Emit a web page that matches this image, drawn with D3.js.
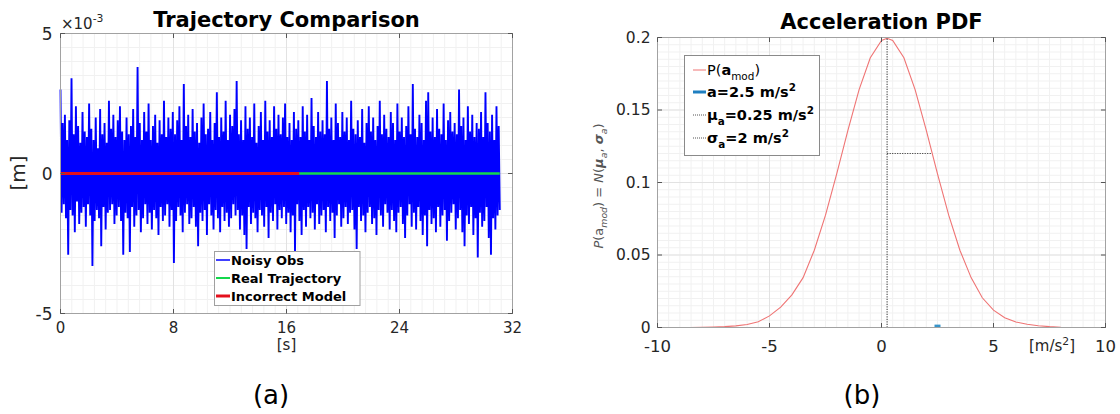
<!DOCTYPE html>
<html><head><meta charset="utf-8">
<script src="https://cdn.jsdelivr.net/npm/d3@7"></script>
<style>body{margin:0;background:#fff}svg{display:block}text{font-family:"DejaVu Sans",sans-serif}</style>
</head><body><svg id="c" width="1120" height="414"></svg>
<script>
// ---------- Panel (a) data ----------
const obsValues = [
30,-14,18,-11,21,-16,12,-29,19,-13,34,-15,14,-21,24,-10,17,-18,11,-14,
22,-12,15,-19,13,-11,25,-15,16,-33,12,-17,20,-13,9,-16,23,-26,14,-12,
18,-20,11,-14,26,-13,16,-11,21,-18,13,-15,19,-12,24,-17,15,-29,12,-14,
20,-16,14,-28,17,-12,23,-19,13,-15,38,-13,18,-21,12,-16,22,-11,15,-18,
25,-14,12,-20,17,-13,21,-16,11,-22,19,-12,14,-17,26,-15,13,-11,20,-19,
16,-13,22,-32,14,-17,19,-12,24,-15,12,-21,32,-14,17,-11,21,-18,13,-16,
23,-12,15,-19,18,-26,11,-14,20,-17,25,-13,14,-22,16,-11,22,-15,12,-20,
18,-13,29,-16,13,-21,20,-12,15,-17,26,-14,12,-19,21,-16,17,-11,23,-15,
33,-13,14,-20,19,-15,12,-22,24,-27,16,-12,20,-18,13,-14,25,-16,11,-21,
17,-13,22,-15,12,-19,26,-12,15,-23,19,-14,13,-17,24,-11,16,-20,21,-13,
14,-16,20,-12,25,-18,13,-14,18,-21,12,-15,22,-28,16,-11,19,-17,13,-22,
24,-13,15,-19,21,-12,12,-16,27,-14,17,-20,13,-11,22,-18,15,-15,19,-13,
14,-21,33,-12,16,-17,20,-14,12,-23,25,-15,18,-11,13,-19,22,-16,15,-12,
20,-18,12,-14,26,-13,16,-20,14,-27,19,-12,13,-17,23,-15,11,-21,18,-14,
24,-12,15,-18,20,-16,12,-22,17,-13,26,-15,14,-19,21,-11,16,-14,13,-20,
22,-13,18,-17,12,-21,25,-14,15,-12,20,-18,13,-23,17,-15,24,-11,14,-19,
32,-14,16,-20,13,-12,21,-17,18,-22,12,-15,26,-26,29,-13,15,-18,20,-16,
13,-21,23,-12,16,-19,14,-15,25,-13,12,-24,19,-17,22,-14,15,-11,18,-20,
14,-16,30,-13,17,-21,20,-26,12,-15,24,-18,15,-12,21,-22,13,-16,18,-30,
16,-14,22,-19,13,-17,29,-12,18,-23,15,-29,21,-16,12,-20,24,-15,17,-13
];
const obsTimeEnd = 31.1;
const realTrajTime = [0, 31.1];
const realTrajValue = [0, 0];
const modelTime = [0, 16.9];
const modelValue = [0, 0];
const xTicksA = [0, 8, 16, 24, 32];
const yTicksA = [-5, 0, 5];
const legendA = ["Noisy Obs", "Real Trajectory", "Incorrect Model"];

// ---------- Panel (b) data ----------
const pdfX = [-8.56,-8,-7.5,-7,-6.5,-6,-5.5,-5,-4.5,-4,-3.5,-3,-2.5,-2,-1.5,-1,-0.5,0,0.25,0.5,1,1.5,2,2.5,3,3.5,4,4.5,5,5.5,6,6.5,7,7.5,8,8.4];
const pdfY = [0.00005,0.0001,0.0003,0.0006,0.0011,0.0021,0.0040,0.0080,0.0140,0.0225,0.0344,0.0533,0.0775,0.1059,0.1360,0.1641,0.1860,0.1979,0.1995,0.1979,0.1860,0.1641,0.1360,0.1059,0.0775,0.0533,0.0344,0.0205,0.0120,0.0068,0.0038,0.0022,0.0012,0.0006,0.0002,0.00005];
const aValue = 2.5;
const aMarkHeight = [0, 0.002];
const muA = 0.25;
const muPeak = 0.1995;
const sigmaA = 2;
const sigmaLineLevel = 0.12;
const xTicksB = [-10, -5, 0, 5, 10];
const yTicksB = [0, 0.05, 0.1, 0.15, 0.2];
const yTickLabelsB = ["0", "0.05", "0.1", "0.15", "0.2"];

const svg = d3.select('#c');
const TICKCOL = '#262626';

function rich(g, x, y, parts, base) {
  const t = g.append('text').attr('x', x).attr('y', y)
    .attr('font-size', base.size).attr('font-weight', base.weight || 'normal')
    .attr('fill', base.fill || '#000');
  if (base.family) t.attr('font-family', base.family);
  if (base.anchor) t.attr('text-anchor', base.anchor);
  if (base.transform) t.attr('transform', base.transform);
  let shift = 0;
  parts.forEach(p => {
    const target = p.sub ? base.size * 0.32 : p.sup ? -base.size * 0.42 : 0;
    const ts = t.append('tspan').text(p.t).attr('dy', target - shift);
    shift = target;
    if (p.sub || p.sup) ts.attr('font-size', base.size * 0.72);
    if (p.weight) ts.attr('font-weight', p.weight);
    if (p.style) ts.attr('font-style', p.style);
    if (p.family) ts.attr('font-family', p.family);
  });
  return t;
}

function drawFrame(g, x, y, xt, yt, minorX, minorY) {
  const [x0, x1] = x.range(), [y0, y1] = y.range();
  const grid = g.append('g');
  minorX.forEach(v => grid.append('line').attr('x1', x(v)).attr('x2', x(v)).attr('y1', y0).attr('y2', y1).attr('stroke', '#f1f1f1'));
  minorY.forEach(v => grid.append('line').attr('y1', y(v)).attr('y2', y(v)).attr('x1', x0).attr('x2', x1).attr('stroke', '#f1f1f1'));
  xt.forEach(v => grid.append('line').attr('x1', x(v)).attr('x2', x(v)).attr('y1', y0).attr('y2', y1).attr('stroke', '#e2e2e2'));
  yt.forEach(v => grid.append('line').attr('y1', y(v)).attr('y2', y(v)).attr('x1', x0).attr('x2', x1).attr('stroke', '#e2e2e2'));
}
function drawBox(g, x, y, xt, yt) {
  const [x0, x1] = x.range(), [y0, y1] = y.range();
  g.append('rect').attr('x', x0).attr('y', y1).attr('width', x1 - x0).attr('height', y0 - y1)
    .attr('fill', 'none').attr('stroke', '#a2a2a2');
  const t = g.append('g').attr('stroke', '#555');
  xt.forEach(v => {
    t.append('line').attr('x1', x(v)).attr('x2', x(v)).attr('y1', y0).attr('y2', y0 - 4.5);
    t.append('line').attr('x1', x(v)).attr('x2', x(v)).attr('y1', y1).attr('y2', y1 + 4.5);
  });
  yt.forEach(v => {
    t.append('line').attr('y1', y(v)).attr('y2', y(v)).attr('x1', x0).attr('x2', x0 + 4.5);
    t.append('line').attr('y1', y(v)).attr('y2', y(v)).attr('x1', x1).attr('x2', x1 - 4.5);
  });
}

// ================= Panel (a) =================
{
  const g = svg.append('g');
  const x = d3.scaleLinear().domain([0, 32]).range([60.5, 512.5]);
  const y = d3.scaleLinear().domain([-5, 5]).range([313.5, 33.5]);
  drawFrame(g, x, y, xTicksA, yTicksA, d3.range(0, 32.01, 0.8), d3.range(-5, 5.01, 0.5));

  const n = obsValues.length;
  const tIdx = d3.scaleLinear().domain([0, n - 1]).range([0, obsTimeEnd]);
  const line = d3.line().x(d => x(d[0])).y(d => y(d[1]));
  g.append('path').datum(obsValues.map((v, i) => [tIdx(i), v / 10]))
    .attr('d', line).attr('fill', 'none').attr('stroke', '#0000ff').attr('stroke-width', 1.9)
    .attr('stroke-linejoin', 'miter').attr('stroke-miterlimit', 2);
  g.append('path').datum(realTrajTime.map((t, i) => [t, realTrajValue[i]]))
    .attr('d', line).attr('fill', 'none').attr('stroke', '#14d84c').attr('stroke-width', 2.6);
  g.append('path').datum(modelTime.map((t, i) => [t, modelValue[i]]))
    .attr('d', line).attr('fill', 'none').attr('stroke', '#e4101c').attr('stroke-width', 3);

  drawBox(g, x, y, xTicksA, yTicksA);

  g.selectAll('.xl').data(xTicksA).join('text').attr('x', d => x(d)).attr('y', 333)
    .attr('text-anchor', 'middle').attr('font-size', 15).attr('fill', TICKCOL).text(d => d);
  g.selectAll('.yl').data(yTicksA).join('text').attr('x', x(0) - 8).attr('y', d => y(d) + 6)
    .attr('text-anchor', 'end').attr('font-size', 17).attr('fill', TICKCOL).text(d => d);

  rich(g, 61, 28.5, [{t: '\u00d710'}, {t: '-3', sup: true}], {size: 15, fill: TICKCOL});
  g.append('text').attr('x', (x(0) + x(32)) / 2).attr('y', 27).attr('text-anchor', 'middle')
    .attr('font-size', 21).attr('font-weight', 'bold').text('Trajectory Comparison');
  g.append('text').attr('transform', 'translate(25,173) rotate(-90)').attr('text-anchor', 'middle')
    .attr('font-size', 20).attr('fill', TICKCOL).text('[m]');
  g.append('text').attr('x', (x(0) + x(32)) / 2).attr('y', 350).attr('text-anchor', 'middle')
    .attr('font-size', 15).attr('fill', TICKCOL).text('[s]');
  g.append('text').attr('x', 271).attr('y', 404).attr('text-anchor', 'middle')
    .attr('font-family', 'Liberation Serif').attr('font-size', 26).text('(a)');

  // legend
  const lg = g.append('g');
  lg.append('rect').attr('x', 214.5).attr('y', 251.5).attr('width', 145.5).attr('height', 54)
    .attr('fill', '#fff').attr('stroke', '#a0a0a0');
  const cols = ['#0000ff', '#14d84c', '#e4101c'];
  const widths = [1.5, 2, 3];
  legendA.forEach((s, i) => {
    const yy = 260 + i * 18;
    lg.append('line').attr('x1', 216).attr('x2', 230).attr('y1', yy).attr('y2', yy)
      .attr('stroke', cols[i]).attr('stroke-width', widths[i]);
    lg.append('text').attr('x', 231).attr('y', yy + 5).attr('font-size', 13).attr('font-weight', 'bold').text(s);
  });
}

// ================= Panel (b) =================
{
  const g = svg.append('g');
  const x = d3.scaleLinear().domain([-10, 10]).range([657.5, 1105.5]);
  const y = d3.scaleLinear().domain([0, 0.2]).range([327.5, 37.5]);
  drawFrame(g, x, y, xTicksB, yTicksB, d3.range(-10, 10.01, 0.5), d3.range(0, 0.2001, 0.005));

  const line = d3.line().x(d => x(d[0])).y(d => y(d[1]));
  g.append('path').datum(pdfX.map((v, i) => [v, pdfY[i]])).attr('d', line)
    .attr('fill', 'none').attr('stroke', '#ef7474').attr('stroke-width', 1.1);
  g.append('path').datum([[muA, 0], [muA, muPeak]]).attr('d', line)
    .attr('stroke', '#444').attr('stroke-dasharray', '1.2,1.3').attr('stroke-width', 1.1);
  g.append('path').datum([[muA, sigmaLineLevel], [muA + sigmaA, sigmaLineLevel]]).attr('d', line)
    .attr('stroke', '#444').attr('stroke-dasharray', '1.2,1.3').attr('stroke-width', 1);
  g.append('path').datum(aMarkHeight.map(h => [aValue, h])).attr('d', line)
    .attr('stroke', '#3794c9').attr('stroke-width', 6);

  drawBox(g, x, y, xTicksB, yTicksB);

  g.selectAll('.xl').data(xTicksB).join('text').attr('x', d => x(d)).attr('y', 351.5)
    .attr('text-anchor', 'middle').attr('font-size', 16.5).attr('fill', TICKCOL).text(d => d);
  g.selectAll('.yl').data(yTicksB).join('text').attr('x', x(-10) - 7).attr('y', d => y(d) + 5)
    .attr('text-anchor', 'end').attr('font-size', 15.5).attr('fill', TICKCOL).text((d, i) => yTickLabelsB[i]);

  g.append('text').attr('x', (x(-10) + x(10)) / 2).attr('y', 28.5).attr('text-anchor', 'middle')
    .attr('font-size', 21).attr('font-weight', 'bold').text('Acceleration PDF');
  rich(g, 1029, 351, [{t: '[m/s'}, {t: '2', sup: true}, {t: ']'}], {size: 15, fill: TICKCOL});
  rich(g, 0, 0, [
    {t: 'P', style: 'italic'}, {t: '('}, {t: 'a'}, {t: 'mod', sub: true, style: 'italic'},
    {t: ') = '}, {t: 'N', style: 'italic'}, {t: '('}, {t: '\u03bc', style: 'italic', weight: 'bold'},
    {t: 'a', sub: true, style: 'italic'}, {t: ', '}, {t: '\u03c3', style: 'italic', weight: 'bold'},
    {t: 'a', sub: true, style: 'italic'}, {t: ')'}
  ], {size: 13, family: 'Liberation Serif', anchor: 'middle', fill: '#555', transform: 'translate(603,186) rotate(-90)'});
  g.append('text').attr('x', 862).attr('y', 404).attr('text-anchor', 'middle')
    .attr('font-family', 'Liberation Serif').attr('font-size', 26).text('(b)');

  // legend
  const lg = g.append('g');
  lg.append('rect').attr('x', 684.5).attr('y', 55.5).attr('width', 135).attr('height', 100)
    .attr('fill', '#fff').attr('stroke', '#8a8a8a');
  const rows = [
    {y: 75, col: '#ef7474', w: 1, dash: null, parts: [{t: 'P('}, {t: 'a', weight: 'bold'}, {t: 'mod', sub: true}, {t: ')'}], weight: 'normal'},
    {y: 97, col: '#1f7fc0', w: 3, dash: null, parts: [{t: 'a=2.5 m/s'}, {t: '2', sup: true}], weight: 'bold'},
    {y: 120, col: '#555', w: 1, dash: '1,1', parts: [{t: '\u03bc'}, {t: 'a', sub: true}, {t: '=0.25 m/s'}, {t: '2', sup: true}], weight: 'bold'},
    {y: 143, col: '#555', w: 1, dash: '1,1', parts: [{t: '\u03c3'}, {t: 'a', sub: true}, {t: '=2 m/s'}, {t: '2', sup: true}], weight: 'bold'}
  ];
  rows.forEach(r => {
    const l = lg.append('line').attr('x1', 693).attr('x2', 706).attr('y1', r.y - 5).attr('y2', r.y - 5)
      .attr('stroke', r.col).attr('stroke-width', r.w);
    if (r.dash) l.attr('stroke-dasharray', r.dash);
    rich(lg, 707, r.y, r.parts, {size: 14.5, weight: r.weight});
  });
}
</script></body></html>
